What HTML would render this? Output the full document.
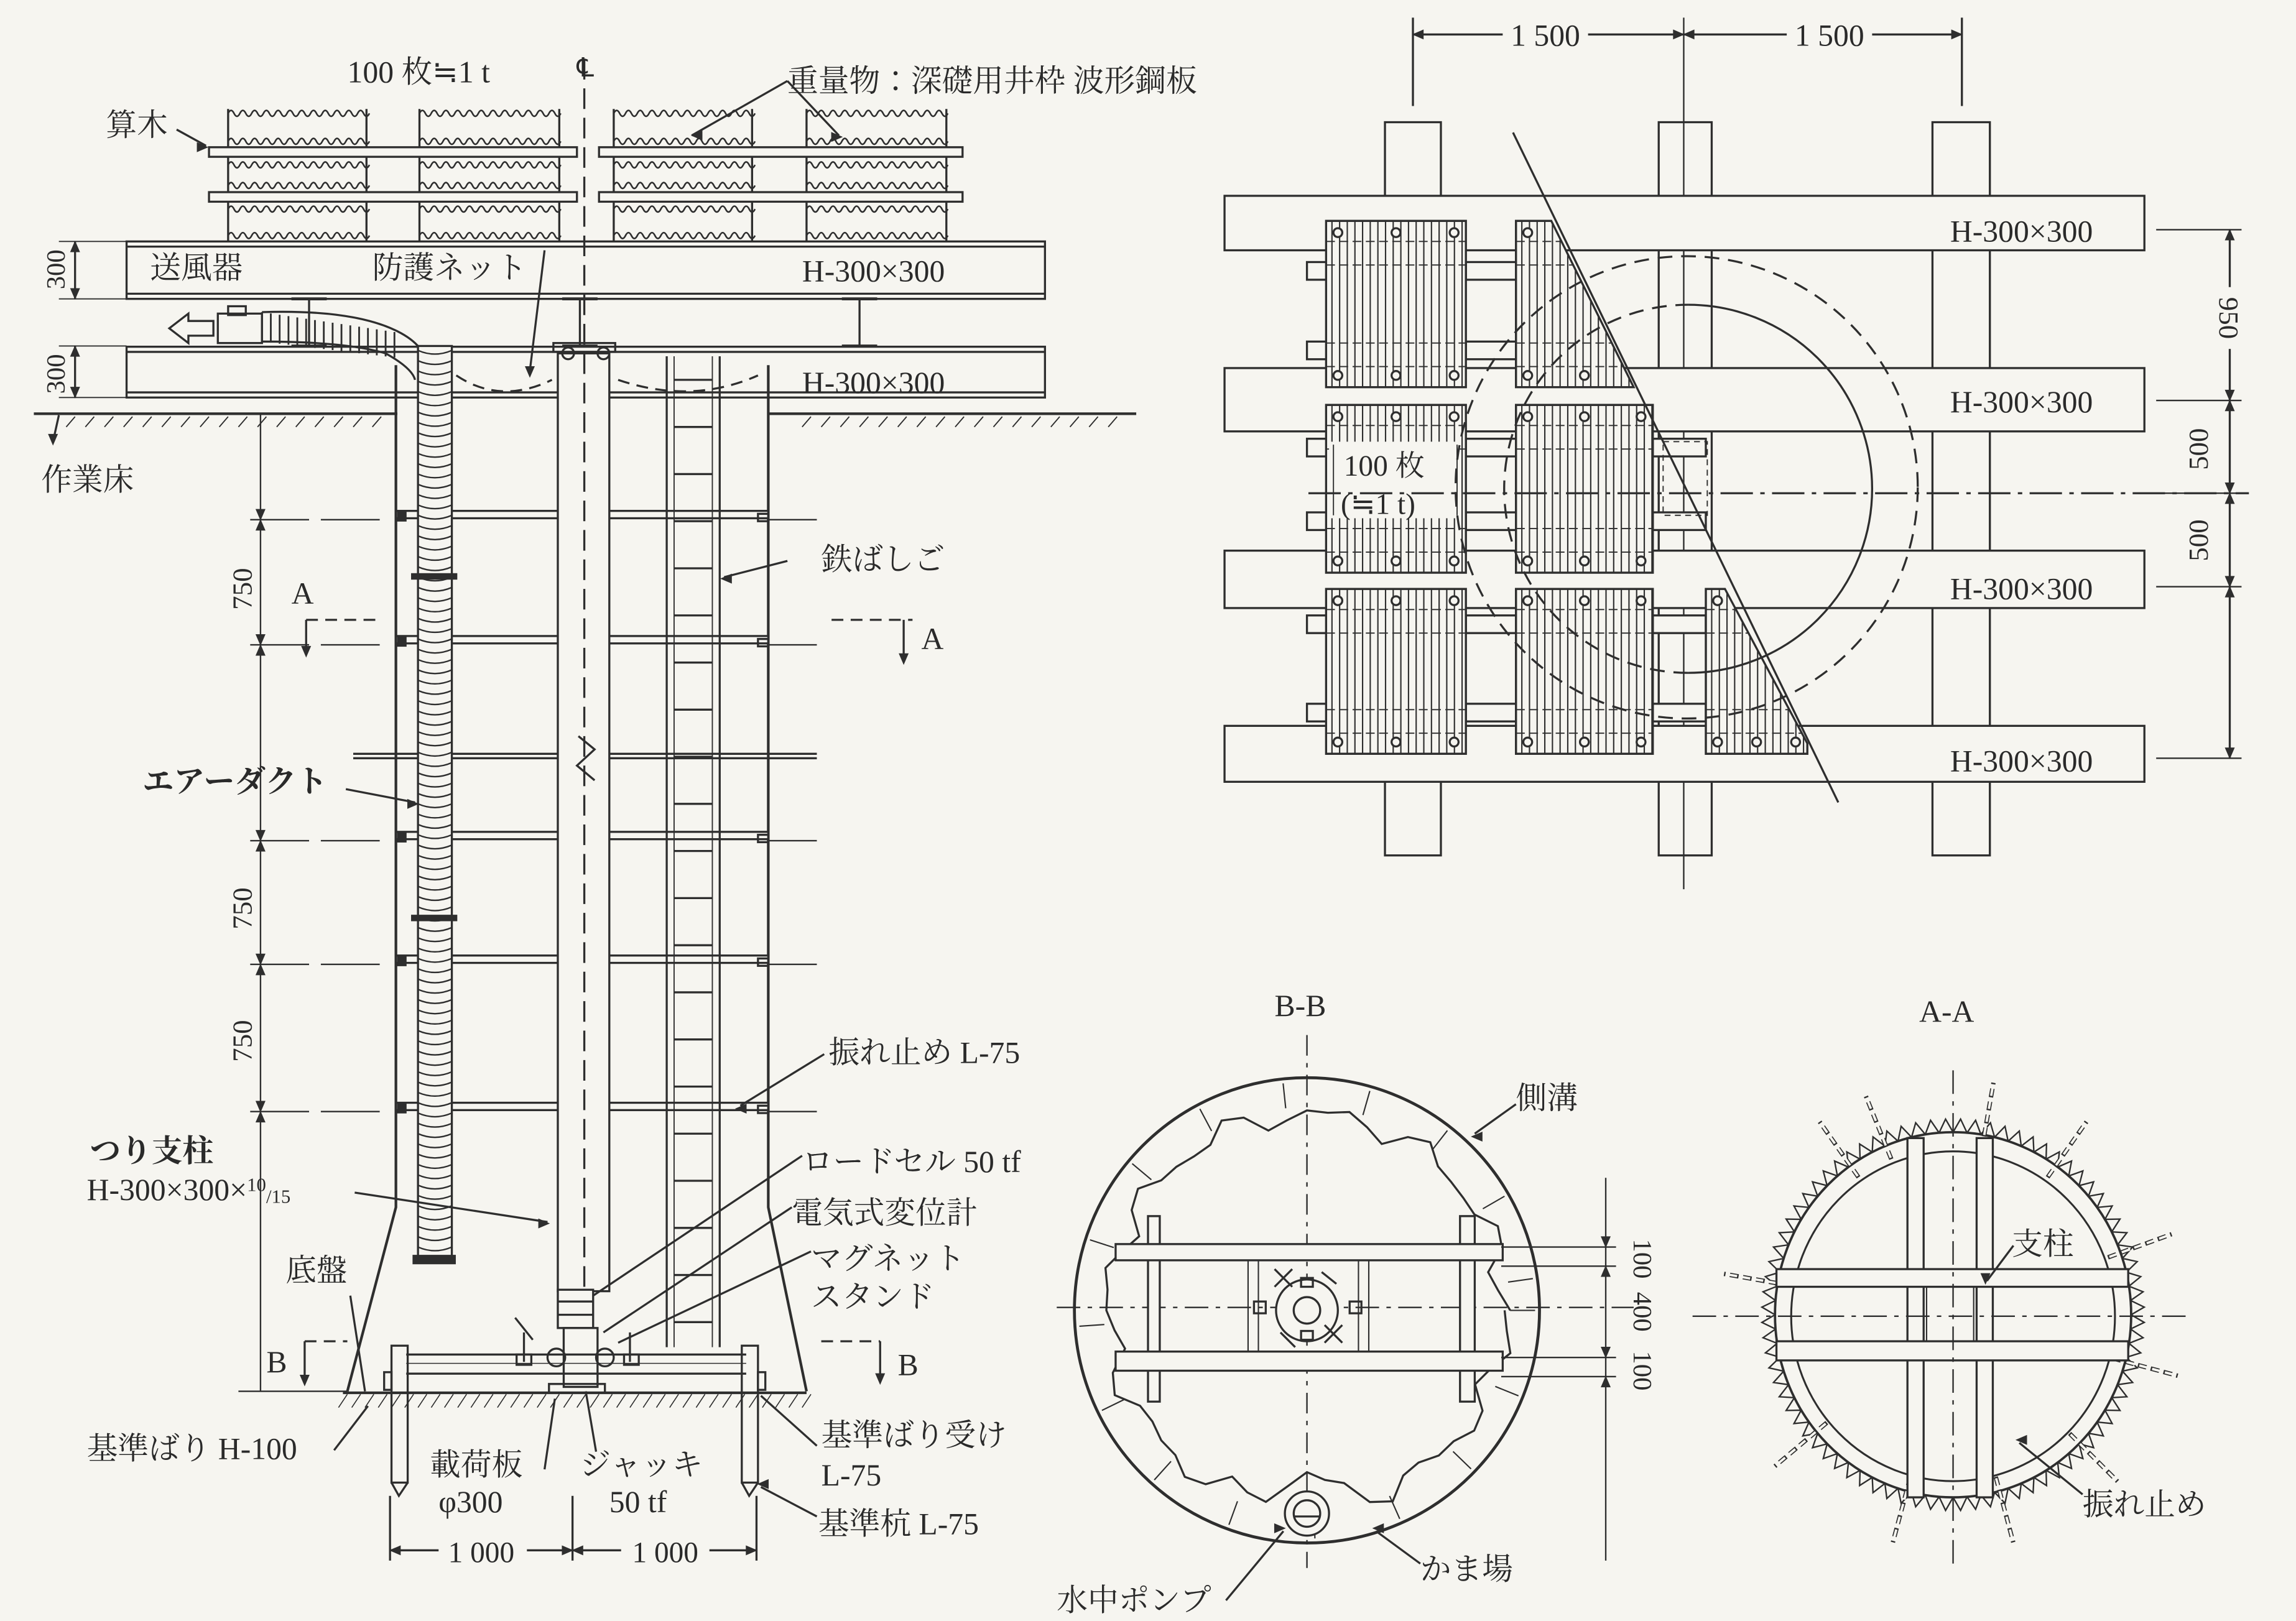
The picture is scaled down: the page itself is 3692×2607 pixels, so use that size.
<!DOCTYPE html>
<html><head><meta charset="utf-8">
<style>
html,body{margin:0;padding:0;background:#f6f5f0;}
svg{display:block;}
text{font-family:"Liberation Serif","Noto Serif CJK JP",serif;fill:#2a2a2a;}
</style></head>
<body>
<svg id="s" xmlns="http://www.w3.org/2000/svg" width="3692" height="2607" viewBox="0 0 1560 1101" preserveAspectRatio="none">
<rect width="1560" height="1101" fill="#f6f5f0"/>
<g id="g" stroke="#2e2e2e" stroke-width="1.4" fill="none"></g>
<g id="t" font-size="21">
<text x="236" y="56">100 枚≒1 t</text>
<text x="392" y="52" font-size="18">℄</text>
<text x="535" y="62">重量物：深礎用井枠  波形鋼板</text>
<text x="72" y="92">算木</text>
<text x="102" y="189">送風器</text>
<text x="253" y="189">防護ネット</text>
<text x="545" y="191">H-300×300</text>
<text x="545" y="267">H-300×300</text>
<text x="28" y="333">作業床</text>
<text x="558" y="387">鉄ばしご</text>
<text x="198" y="410">A</text>
<text x="626" y="441">A</text>
<text x="97" y="538" font-weight="bold">エアーダクト</text>
<text x="563" y="722">振れ止め L-75</text>
<text x="61" y="789" font-weight="bold">つり支柱</text>
<text x="59" y="815">H-300×300×<tspan font-size="13" dy="-6">10</tspan><tspan font-size="13" dy="8">/15</tspan></text>
<text x="545" y="796">ロードセル 50 tf</text>
<text x="538" y="831">電気式変位計</text>
<text x="551" y="862">マグネット</text>
<text x="551" y="888">スタンド</text>
<text x="194" y="870">底盤</text>
<text x="181" y="932">B</text>
<text x="610" y="934">B</text>
<text x="59" y="991">基準ばり H-100</text>
<text x="292" y="1002">載荷板</text>
<text x="298" y="1027">φ300</text>
<text x="394" y="1002">ジャッキ</text>
<text x="414" y="1027">50 tf</text>
<text x="558" y="982">基準ばり受け</text>
<text x="558" y="1009">L-75</text>
<text x="556" y="1042">基準杭 L-75</text>
<text x="1325" y="164">H-300×300</text>
<text x="1325" y="280">H-300×300</text>
<text x="1325" y="407">H-300×300</text>
<text x="1325" y="524">H-300×300</text>
<text x="866" y="690">B-B</text>
<text x="1304" y="694">A-A</text>
<text x="1030" y="753">側溝</text>
<text x="1367" y="852">支柱</text>
<text x="1415" y="1029">振れ止め</text>
<text x="965" y="1073">かま場</text>
<text x="718" y="1094">水中ポンプ</text>
</g>
</svg>
<script>
var NS="http://www.w3.org/2000/svg",G=document.getElementById('g'),T=document.getElementById('t');
function el(n,a,p){var e=document.createElementNS(NS,n);for(var k in a)e.setAttribute(k,a[k]);(p||G).appendChild(e);return e;}
function L(x1,y1,x2,y2,a){var o={x1:x1,y1:y1,x2:x2,y2:y2};for(var k in a)o[k]=a[k];return el('line',o);}
function R(x,y,w,h,a){var o={x:x,y:y,width:w,height:h};for(var k in a)o[k]=a[k];return el('rect',o);}
function P(d,a){var o={d:d};for(var k in a)o[k]=a[k];return el('path',o);}
function C(cx,cy,r,a){var o={cx:cx,cy:cy,r:r};for(var k in a)o[k]=a[k];return el('circle',o);}
function Tx(x,y,s,a){var o={x:x,y:y};for(var k in a)o[k]=a[k];var e=el('text',o,T);e.textContent=s;return e;}
var DASH={'stroke-dasharray':'8 5'},DD={'stroke-dasharray':'22 5 3 5'},BG='#f6f5f0';
function arrow(x,y,dir){
 var s=7,w=3;var d;
 if(dir=='d')d='M'+x+','+y+'l-'+w+',-'+s+'l'+2*w+',0z';
 if(dir=='u')d='M'+x+','+y+'l-'+w+','+s+'l'+2*w+',0z';
 if(dir=='l')d='M'+x+','+y+'l'+s+',-'+w+'l0,'+2*w+'z';
 if(dir=='r')d='M'+x+','+y+'l-'+s+',-'+w+'l0,'+2*w+'z';
 P(d,{fill:'#2e2e2e','stroke-width':0.5});}
function wavy(x0,x1,y){var d='M'+x0+','+y;for(var x=x0;x<x1;x+=8){d+='q2,-4 4,0 q2,4 4,0';}P(d,{'stroke-width':1.1});}

[[155,249],[285,380],[417,511],[548,643]].forEach(function(s){
 L(s[0],74,s[0],164);L(s[1],74,s[1],164);
 [77,96,112,126,142,160].forEach(function(y){wavy(s[0],s[1],y);});
});
R(142,100,250,6.5,{fill:BG});R(142,130.5,250,6.5,{fill:BG});
R(407,100,247,6.5,{fill:BG});R(407,130.5,247,6.5,{fill:BG});
P('M120,88 L140,99');arrow(141,100,'r');
P('M535,55 L470,92');P('M535,55 L570,92');arrow(470,92,'l');arrow(572,93,'r');
R(86,164,624,39,{fill:BG});L(86,167.5,710,167.5);L(86,199.5,710,199.5);
R(86,235.5,624,34.5,{fill:BG});L(86,239,710,239);L(86,266.5,710,266.5);
[210,394,584].forEach(function(x){L(x-12,203,x+12,203,{'stroke-width':2});L(x,203,x,235);L(x-12,235,x+12,235,{'stroke-width':2});});
P('M115,223 L128,213 L128,218 L145,218 L145,228 L128,228 L128,233 Z');
R(148,213,30,20);R(155,208,12,6);
for(var x=178;x<270;x+=6){L(x,212+(x-178)*0.15,x,232+(x-178)*0.12,{'stroke-width':1.2});}
P('M178,212 Q240,210 270,225 Q290,235 290,250');P('M178,232 Q235,232 262,240 Q280,250 282,258');
L(51,164,51,203);L(51,235,51,270);L(40,164,86,164,{'stroke-width':0.8});L(40,203,86,203,{'stroke-width':0.8});L(40,235,86,235,{'stroke-width':0.8});L(40,270,86,270,{'stroke-width':0.8});
arrow(51,164,'u');arrow(51,203,'d');arrow(51,235,'u');arrow(51,270,'d');
Tx(44,183,'300',{transform:'rotate(-90 44 183)','text-anchor':'middle','font-size':'18'});
Tx(44,254,'300',{transform:'rotate(-90 44 254)','text-anchor':'middle','font-size':'18'});
L(23,281,270,281,{'stroke-width':1.8});L(522,281,772,281,{'stroke-width':1.8});
for(var x=45;x<265;x+=13){L(x,290,x+6,283,{'stroke-width':0.8});}
for(var x=545;x<765;x+=13){L(x,290,x+6,283,{'stroke-width':0.8});}
P('M40,282 L36,300');arrow(36,302,'d');
P('M269,248 L269,820 L236,945',{'stroke-width':1.8});P('M522,248 L522,820 L548,945',{'stroke-width':1.8});
P('M310,255 Q340,275 375,258',DASH);P('M420,258 Q470,275 515,255',DASH);P('M370,170 L360,252');arrow(360,256,'d');
[353,438,571,655,755].forEach(function(y){
 R(269,y-6,253,5,{fill:BG});L(522,y,555,y,{'stroke-width':1});L(170,y,262,y,{'stroke-width':1,'stroke-dasharray':'40 8'});
 R(270,y-6,6,7,{fill:'#2e2e2e','stroke-width':0.5});R(515,y-4,7,5);
});
L(240,512,555,512);L(240,515,555,515);
R(379,240,35,637,{fill:BG});
P('M393,500 L404,509 L392,520 L404,530',{stroke:'#2e2e2e'});
C(386,240,4);C(410,240,4);R(376,233,42,6);
L(397,40,397,925,{'stroke-dasharray':'14 6'});
L(453,242,453,915);L(489,242,489,915);L(458,242,458,915,{'stroke-width':0.8});L(484,242,484,915,{'stroke-width':0.8});
for(var y=258;y<905;y+=32){L(458,y,484,y);}
R(284,235,23,620,{fill:BG});
for(var y=238;y<855;y+=7){P('M284,'+y+' q11.5,5 23,0',{'stroke-width':1});}
[390,622].forEach(function(y){R(280,y,30,3,{fill:'#2e2e2e'});});
R(281,853,28,5,{fill:'#2e2e2e'});
L(177,281,177,945,{'stroke-width':1});
[353,438,571,655,755].forEach(function(y){arrow(177,y,'d');arrow(177,y+0.1,'u');});
Tx(171,400,'750',{transform:'rotate(-90 171 400)','text-anchor':'middle','font-size':'19'});
Tx(171,617,'750',{transform:'rotate(-90 171 617)','text-anchor':'middle','font-size':'19'});
Tx(171,707,'750',{transform:'rotate(-90 171 707)','text-anchor':'middle','font-size':'19'});
L(162,945,236,945,{'stroke-width':1});
L(208,421,255,421,DASH);L(208,421,208,443);arrow(208,446,'d');
L(565,421,620,421,DASH);L(614,421,614,448);arrow(614,451,'d');
L(207,911,236,911,DASH);L(207,911,207,938);arrow(207,941,'d');
L(558,911,598,911,DASH);L(598,911,598,936);arrow(598,940,'d');
R(379,876,24,26,{fill:BG});L(379,884,403,884);L(379,893,403,893);
R(383,902,23,40,{fill:BG});C(378,922,6);C(411,922,6);R(373,940,38,6);
L(276,920,507,920);L(276,933,507,933);L(276,926,507,926,{'stroke-width':0.6});
R(266,914,11,93);R(504,914,11,93);R(261,932,5,12);R(515,932,5,12);
P('M266,1007 L271,1016 L277,1007');P('M504,1007 L509,1016 L515,1007');
L(356,905,356,925);L(428,905,428,925);R(351,920,10,7);R(424,920,10,7);L(350,895,362,910);
L(233,946,548,946,{'stroke-width':1.8});
for(var x=230;x<552;x+=9){L(x,956,x+6,947,{'stroke-width':0.7});}
P('M241,810 L372,830');arrow(373,831,'r');
P('M238,880 L248,945');P('M227,985 L250,955');P('M235,536 L282,545');arrow(284,546,'r');
P('M535,381 L492,392');arrow(490,393,'l');
P('M560,716 L503,751');arrow(500,753,'l');
P('M545,785 L403,880');P('M538,820 L410,905');P('M551,850 L420,912');
P('M370,998 L377,950');P('M405,986 L398,945');P('M555,982 L517,948');P('M555,1030 L517,1010');arrow(515,1008,'l');
L(265,1016,265,1060);L(389,1016,389,1060);L(514,1016,514,1060);
L(265,1053,514,1053);arrow(265,1053,'l');arrow(389,1053,'r');arrow(389,1053,'l');arrow(514,1053,'r');
R(298,1043,60,20,{fill:BG,stroke:'none'});R(422,1043,60,20,{fill:BG,stroke:'none'});
Tx(327,1061,'1 000',{'text-anchor':'middle','font-size':'20'});Tx(452,1061,'1 000',{'text-anchor':'middle','font-size':'20'});

[[941,979],[1127,1163],[1313,1352]].forEach(function(p){R(p[0],83,p[1]-p[0],498,{fill:BG});});
L(1144,12,1144,604,{'stroke-width':1});
[[133,170],[250,293],[374,413],[493,531]].forEach(function(b){R(832,b[0],625,b[1]-b[0],{fill:BG});});
[[178,190],[232,244],[298,310],[348,360],[418,430],[478,490]].forEach(function(t,i){
 R(888,t[0],14,t[1]-t[0],{fill:BG});R(996,t[0],36,t[1]-t[0],{fill:BG});if(i>1)R(1123,t[0],36,t[1]-t[0],{fill:BG});});
function mat(pts,x0,x1,y0,y1){
 var id='c'+Math.random().toString(36).slice(2);
 var cp=el('clipPath',{id:id});el('polygon',{points:pts},cp);
 var g=el('g',{'clip-path':'url(#'+id+')'});
 el('rect',{x:x0,y:y0,width:x1-x0,height:y1-y0,fill:BG},g);
 for(var x=x0+4;x<x1;x+=5.2){el('line',{x1:x,y1:y0,x2:x,y2:y1,'stroke-width':0.9},g);}
 [y0+14,y0+30,y1-30,y1-14].forEach(function(y){el('line',{x1:x0,y1:y,x2:x1,y2:y,'stroke-width':0.8,'stroke-dasharray':'6 3'},g);});
 [[x0+8,y0+8],[(x0+x1)/2,y0+8],[x1-8,y0+8],[x0+8,y1-8],[(x0+x1)/2,y1-8],[x1-8,y1-8]].forEach(function(c){el('circle',{cx:c[0],cy:c[1],r:3,fill:BG},g);});
 el('polygon',{points:pts,'stroke-width':1.4},G);
}
function rm(x0,x1,y0,y1){mat(x0+','+y0+' '+x1+','+y0+' '+x1+','+y1+' '+x0+','+y1,x0,x1,y0,y1);}
rm(901,996,150,263);rm(901,996,275,389);rm(901,996,400,512);
rm(1030,1123,275,389);rm(1030,1123,400,512);
mat('1030,150 1054,150 1110,263 1030,263',1030,1123,150,263);
mat('1159,400 1172,400 1228,505 1228,512 1159,512',1159,1228,400,512);
R(903,300,88,52,{fill:BG,stroke:'none'});
Tx(913,323,'100 枚',{'font-size':'20'});Tx(911,349,'(≒1 t)',{'font-size':'20'});
L(906,302,906,350,{'stroke-width':0.8});L(990,302,990,350,{'stroke-width':0.8});
R(1130,300,30,50,{'stroke-dasharray':'4 3','stroke-width':0.8});
C(1146,331,157,{'stroke-dasharray':'10 6'});
P('M1147,207 A125,125 0 0 1 1147,457',{});P('M1147,457 A125,125 0 0 1 1147,207',{'stroke-dasharray':'10 6'});
L(1028,90,1249,545);
L(889,335,1528,335,DD);
L(960,12,960,72);L(1333,12,1333,72);
L(960,23.4,1333,23.4);arrow(960,23.4,'l');arrow(1144,23.4,'r');arrow(1144,23.4,'l');arrow(1333,23.4,'r');
R(1021,10,58,24,{fill:BG,stroke:'none'});R(1214,10,58,24,{fill:BG,stroke:'none'});
Tx(1050,31,'1 500',{'text-anchor':'middle','font-size':'21'});Tx(1243,31,'1 500',{'text-anchor':'middle','font-size':'21'});
[156,272,335,398.5,515].forEach(function(y){L(1465,y,1523,y,{'stroke-width':1});});
L(1515,156,1515,515);[156,272,335,398.5].forEach(function(y){arrow(1515,y,'u');});[272,335,398.5,515].forEach(function(y){arrow(1515,y,'d');});
R(1503,195,24,42,{fill:BG,stroke:'none'});
Tx(1508,216,'950',{transform:'rotate(90 1508 216)','text-anchor':'middle','font-size':'19'});
Tx(1500,305,'500',{transform:'rotate(-90 1500 305)','text-anchor':'middle','font-size':'19'});
Tx(1500,367,'500',{transform:'rotate(-90 1500 367)','text-anchor':'middle','font-size':'19'});

var bx=888,by=890;
C(bx,by,158,{'stroke-width':2});
var d='';for(var a=0;a<=360;a+=6){var r=133+6*Math.sin(a*0.21)+4*Math.sin(a*0.7);
 var rr=r;var ang=a*Math.PI/180;if(Math.abs(a-90)<16){rr=r*(0.82+0.18*Math.abs(a-90)/16);}
 var x=bx+rr*Math.cos(ang)*1.01,y=by+rr*Math.sin(ang);d+=(a?'L':'M')+x.toFixed(1)+','+y.toFixed(1);}
P(d,{'stroke-width':1.4});
for(var a=0;a<360;a+=22){var ang=a*Math.PI/180;var r1=138,r2=155;L(bx+r1*Math.cos(ang),by+r1*Math.sin(ang),bx+r2*Math.cos(ang),by+r2*Math.sin(ang),{'stroke-width':0.9});}
L(bx,703,bx,1065,{'stroke-dasharray':'14 5 3 5','stroke-width':1});
L(718,888,1110,888,{'stroke-dasharray':'16 5 3 5','stroke-width':1});
R(780,826,8,126,{fill:BG});R(992,826,10,126,{fill:BG});
R(758,845,263,11,{fill:BG});R(758,918,263,13,{fill:BG});
L(848,856,848,918,{'stroke-width':0.9});L(930,856,930,918,{'stroke-width':0.9});L(855,856,855,918,{'stroke-width':0.9});L(923,856,923,918,{'stroke-width':0.9});
C(bx,by,21,{fill:BG});C(bx,by,9);R(852,884,8,8);R(917,884,8,8);R(884,868,8,6);R(884,904,8,6);
L(866,862,878,874);L(866,874,878,862);L(900,900,912,912);L(900,912,912,900);L(870,905,880,915);L(898,864,908,872);
C(bx,1028,15,{fill:BG});C(bx,1028,9);L(879,1030,897,1030);
P('M1030,750 L1002,770');arrow(1000,772,'l');
P('M965,1062 L935,1040');arrow(933,1038,'l');P('M833,1087 L872,1040');arrow(873,1038,'r');
[847,860,922,935].forEach(function(y){L(1020,y,1098,y,{'stroke-width':1});});
L(1091,800,1091,1060,{'stroke-width':1});arrow(1091,847,'d');arrow(1091,935,'u');arrow(1091,860,'u');arrow(1091,922,'d');
Tx(1110,855,'100',{transform:'rotate(90 1110 855)','text-anchor':'middle','font-size':'18'});
Tx(1110,891,'400',{transform:'rotate(90 1110 891)','text-anchor':'middle','font-size':'18'});
Tx(1110,931,'100',{transform:'rotate(90 1110 931)','text-anchor':'middle','font-size':'18'});

var ax=1327,ay=893;
var td='';for(var a=0;a<360;a+=4.5){var ang=a*Math.PI/180,ang2=(a+2.25)*Math.PI/180,ang3=(a+4.5)*Math.PI/180;
 td+='M'+(ax+121*Math.cos(ang)).toFixed(1)+','+(ay+124*Math.sin(ang)).toFixed(1)+'L'+(ax+130*Math.cos(ang2)).toFixed(1)+','+(ay+133*Math.sin(ang2)).toFixed(1)+'L'+(ax+121*Math.cos(ang3)).toFixed(1)+','+(ay+124*Math.sin(ang3)).toFixed(1);}
P(td,{'stroke-width':1});
el('ellipse',{cx:ax,cy:ay,rx:121,ry:124,'stroke-width':1.6});
el('ellipse',{cx:ax,cy:ay+1,rx:110,ry:112,'stroke-width':1.3});
[-112,-80,-55,-20,15,45,75,105,140,190,235].forEach(function(a){var ang=a*Math.PI/180;
 L(ax+112*Math.cos(ang),ay+114*Math.sin(ang),ax+158*Math.cos(ang),ay+160*Math.sin(ang),{'stroke-width':3,'stroke-dasharray':'6 3',stroke:'#2e2e2e'});
 L(ax+113*Math.cos(ang),ay+115*Math.sin(ang),ax+157*Math.cos(ang),ay+159*Math.sin(ang),{'stroke-width':1.6,'stroke-dasharray':'6 3',stroke:BG});});
R(1296,773,11,244,{fill:BG});R(1343,773,11,244,{fill:BG});
R(1207,862,239,12,{fill:BG});R(1207,911,239,13,{fill:BG});
R(1309,874,32,37,{'stroke-width':0.9});
L(ax,727,ax,1064,{'stroke-dasharray':'16 5 3 5','stroke-width':1});
L(1150,894,1485,894,{'stroke-dasharray':'16 5 3 5','stroke-width':1});
P('M1368,846 L1350,870');arrow(1349,872,'d');
P('M1415,1015 L1372,980');arrow(1370,978,'l');
</script>
</body></html>
